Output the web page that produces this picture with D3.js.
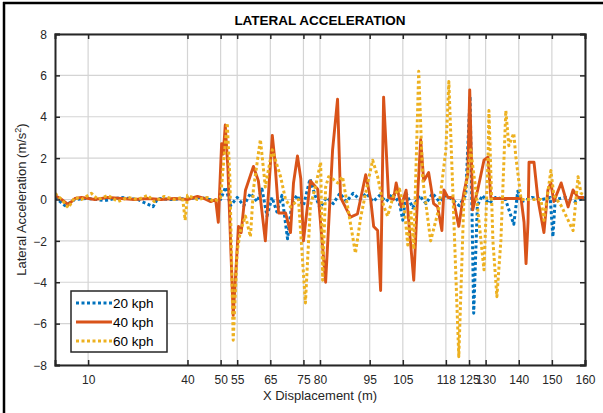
<!DOCTYPE html>
<html><head><meta charset="utf-8">
<script src="https://cdn.jsdelivr.net/npm/d3@7"></script>
<style>body{margin:0;background:#fff}svg{display:block;font-family:"Liberation Sans",Arial,sans-serif}</style>
</head><body>
<script>
const xTicks=[10,40,50,55,65,75,80,95,105,118,125,130,140,150,160];
const yTicks=[-8,-6,-4,-2,0,2,4,6,8];
const seriesNames=["20 kph","40 kph","60 kph"];
const x20=[0,3,6,10,15,20,25,29.6,31,35,40,44,48,50,51.5,53,55,57,59,61,62.5,64,65.5,67,68.5,70.2,71.5,73,75,77,78.5,80,82,84,86,88,90,92,94,96,98,100,102,104,105,106,108,110,112,114,116,118,120,122,124,125.3,126.4,127.5,129,131,133,136,138.5,139.7,141,144,147,149.5,150.3,151,154,157,160];
const y20=[0.1,-0.3,0.0,0.05,-0.05,0.1,0.0,-0.35,0.05,0.0,0.05,0.1,-0.05,0.0,0.6,-0.3,0.1,-0.3,0.3,-0.1,0.5,-0.8,0.1,-0.6,0.2,-1.9,-0.2,0.2,-0.3,1.0,0.2,-0.4,0.1,-0.2,0.3,-0.1,0.3,0.0,0.3,-0.1,0.2,-0.1,0.3,-0.2,-1.0,0.3,-0.4,0.2,-0.2,0.3,-0.1,0.2,0.0,-0.3,0.2,5.0,-5.5,-0.3,0.2,-0.2,0.1,0.0,-1.2,0.4,-0.1,0.1,0.0,0.1,-1.8,0.0,0.1,-0.1,0.1];
const x40=[0,2,4,6,8,12,16,20,24,28,32,36,40,43,45,47,48.5,49.3,50.3,50.8,51.4,52.2,53.8,55.4,56.2,57.5,59.9,61.4,63.5,65.6,66.3,67.5,69.6,71.1,72,73.2,74.2,75,77.1,79.3,81.7,83.8,85.3,86.2,89.2,91.3,93.8,95.3,96.2,97.4,98.3,99.2,100.7,102.2,103,104.5,106,108.3,109.5,110.4,111.3,112.8,114.3,115.5,116.8,117.4,118.6,120.1,121.9,123.4,124.6,125.2,126.1,127.6,129.5,130.7,131.6,140.7,141.6,142.2,142.8,143.1,144.6,145.8,147.6,148.8,149.7,150.6,152.8,154.9,156.4,157.9,159.7];
const y40=[0.2,0.0,-0.25,0.05,0.1,0.0,0.1,0.05,0.0,0.05,0.0,0.05,0.0,0.15,0.05,-0.1,0.0,-1.1,2.7,2.2,3.6,1.5,-5.6,-1.3,-1.6,0.45,1.6,0.9,-2.0,3.1,2.0,-0.65,-0.65,-1.6,0.8,2.1,1.0,-2.0,0.9,0.5,-4.0,2.4,4.85,0.1,-0.85,-0.7,1.2,0.0,-1.3,-1.5,-4.4,4.95,0.1,0.0,0.8,-0.35,0.45,-3.9,0.3,2.9,0.9,1.3,-0.2,-0.35,-1.5,0.46,0.1,0.1,-1.3,0.3,1.2,5.3,-0.5,0.46,1.9,2.05,0.05,0.05,-1.1,-3.1,-1.1,1.8,1.8,0.0,-1.6,0.46,0.8,-0.1,0.8,-0.36,0.46,0.1,0.1];
const x60=[0,2,4,6,8,11,13,16,19,22,25,28,30,33,36,38.5,39.3,40,43,46,48,50,51,52,52.8,53.8,55,56,57.5,59,59.9,62,63.5,64.5,65.6,68.1,69.6,71.1,73.5,75.6,77.1,78.6,80.2,80.8,81.7,82.6,83.8,85.3,86.8,88.3,90.7,92.3,94.4,95.9,97.4,99.2,100.4,102.2,104,105.5,106.5,107.4,108.3,109.8,111,113.4,115.8,118,118.9,121.9,123.4,125.5,127,129.5,130.7,131,132.2,133.4,134.6,136.1,137,138.5,139.1,140.7,146.7,147.6,149.7,150.6,152.8,156.4,157.9,158.8,160];
const y60=[0.3,0.0,-0.4,0.1,0.0,0.3,0.0,0.2,-0.1,0.1,0.0,0.2,-0.1,0.15,0.0,0.1,-1.0,0.2,0.0,0.1,-0.1,0.1,2.0,3.7,1.0,-6.8,-2.5,-1.5,-0.8,-1.8,0.5,2.9,0.6,1.5,2.4,1.1,0.0,-0.36,0.0,-5.0,-0.3,0.6,1.8,-3.9,0.6,1.1,1.0,0.8,1.1,-0.3,-2.6,-0.85,0.8,1.9,1.1,-0.3,-0.8,0.2,0.5,-0.5,-2.2,-0.5,-2.4,6.2,1.0,-2.0,-0.5,2.4,5.7,-7.6,-0.2,2.4,0.5,-3.4,1.8,4.3,-2.0,-4.7,-2.0,4.3,2.6,3.2,2.1,0.0,0.0,-1.0,1.4,0.2,-0.3,-1.5,1.1,0.3,0.2];

const W=603,H=413,L=55,R=585,T=34,B=365;
const svg=d3.select("body").append("svg").attr("width",W).attr("height",H);
svg.append("line").attr("x1",4).attr("x2",4).attr("y1",2).attr("y2",H).attr("stroke","#000").attr("stroke-width",2.5);
svg.append("line").attr("x1",3).attr("x2",W).attr("y1",3).attr("y2",3).attr("stroke","#000").attr("stroke-width",2.5);
const x=d3.scaleLinear().domain([0,160]).range([L,R]);
const y=d3.scaleLinear().domain([-8,8]).range([B,T]);
const g=svg.append("g");
g.selectAll(".gx").data(xTicks).join("line").attr("x1",d=>x(d)).attr("x2",d=>x(d)).attr("y1",T).attr("y2",B).attr("stroke","#d4d4d4").attr("stroke-width",1.2);
g.selectAll(".gy").data(yTicks).join("line").attr("y1",d=>y(d)).attr("y2",d=>y(d)).attr("x1",L).attr("x2",R).attr("stroke","#d4d4d4").attr("stroke-width",1.2);
svg.append("clipPath").attr("id","c").append("rect").attr("x",L).attr("y",T).attr("width",R-L).attr("height",B-T);
const colors=["#0072BD","#D95319","#EDB120"];
const data=[[x20,y20],[x40,y40],[x60,y60]];
const line=d3.line().x(d=>x(d[0])).y(d=>y(d[1]));
data.forEach((s,i)=>{
  const pts=s[0].map((v,j)=>[v,s[1][j]]);
  svg.append("path").attr("clip-path","url(#c)").attr("d",line(pts)).attr("fill","none")
    .attr("stroke",colors[i]).attr("stroke-width",i==1?2.9:3).attr("stroke-linejoin","round")
    .attr("stroke-dasharray",i==1?null:"3,2.5");
});
const ax=svg.append("g").attr("transform",`translate(0,${B})`).call(d3.axisBottom(x).tickValues(xTicks).tickSize(-5).tickPadding(10).tickFormat(d3.format("d")));
const ay=svg.append("g").attr("transform",`translate(${L},0)`).call(d3.axisLeft(y).tickValues(yTicks).tickSize(-5).tickPadding(8).tickFormat(d3.format("d")));
const axT=svg.append("g").attr("transform",`translate(0,${T})`).call(d3.axisTop(x).tickValues(xTicks).tickSize(-5).tickFormat(""));
const ayR=svg.append("g").attr("transform",`translate(${R},0)`).call(d3.axisRight(y).tickValues(yTicks).tickSize(-5).tickFormat(""));
[ax,ay,axT,ayR].forEach(a=>{a.select(".domain").attr("stroke","#262626").attr("stroke-width",2);a.selectAll(".tick line").attr("stroke","#262626").attr("stroke-width",1.5);a.selectAll("text").attr("font-size",12).attr("fill","#262626").attr("font-family","Liberation Sans, Arial, sans-serif");});
ay.selectAll(".tick text").attr("dy","0.35em");
svg.append("text").attr("x",(L+R)/2).attr("y",25).attr("text-anchor","middle").attr("font-weight","bold").attr("font-size",13.5).attr("fill","#000").text("LATERAL ACCELERATION");
svg.append("text").attr("x",(L+R)/2).attr("y",400).attr("text-anchor","middle").attr("font-size",13).attr("fill","#262626").text("X Displacement (m)");
const yl=svg.append("text").attr("transform",`translate(26,${(T+B)/2}) rotate(-90)`).attr("text-anchor","middle").attr("font-size",13).attr("fill","#262626");
yl.append("tspan").text("Lateral Acceleration (m/s");
yl.append("tspan").attr("font-size",9).attr("dy",-5).text("2");
yl.append("tspan").attr("dy",5).text(")");
const lg=svg.append("g");
lg.append("rect").attr("x",71).attr("y",291).attr("width",96).attr("height",61).attr("fill","#fff").attr("stroke","#262626").attr("stroke-width",1.5);
seriesNames.forEach((n,i)=>{
  const yy=303+i*19;
  lg.append("line").attr("x1",76).attr("x2",112).attr("y1",yy).attr("y2",yy).attr("stroke",colors[i]).attr("stroke-width",i==1?2.9:3).attr("stroke-dasharray",i==1?null:"3,2.5");
  lg.append("text").attr("x",113).attr("y",yy).attr("dy","0.35em").attr("font-size",13.5).attr("fill","#000").text(n);
});
</script>
</body></html>
